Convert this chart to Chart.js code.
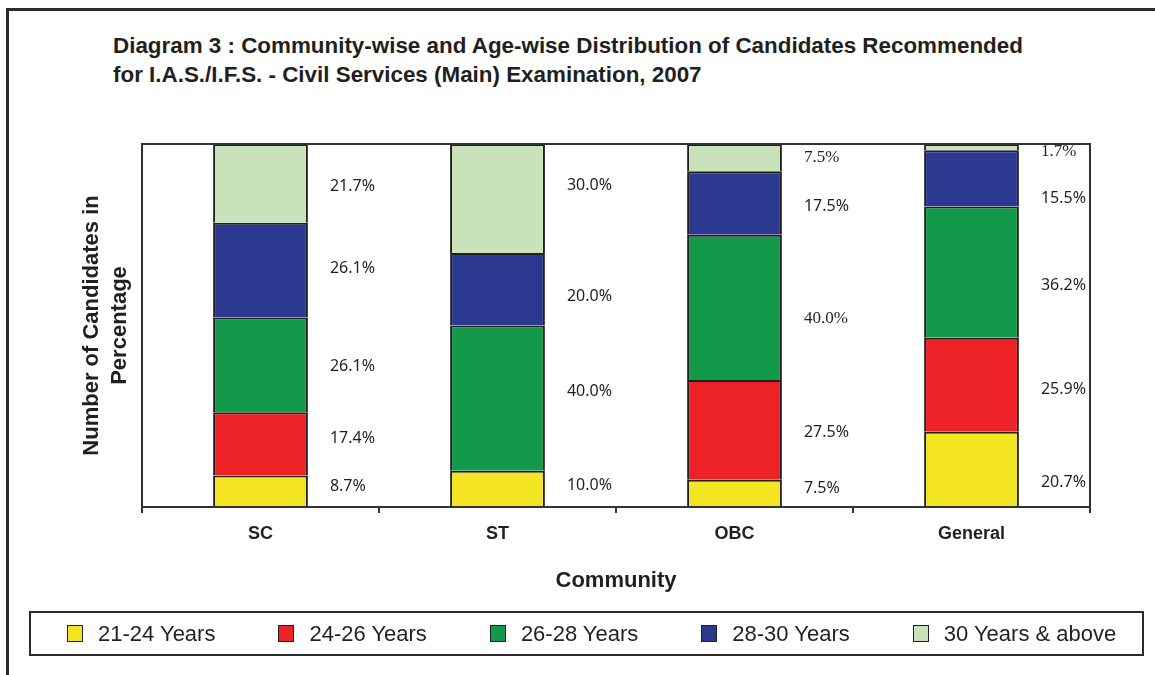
<!DOCTYPE html>
<html>
<head>
<meta charset="utf-8">
<script src="https://cdn.jsdelivr.net/npm/chart.js@4.4.1/dist/chart.umd.min.js"></script>
<style>
  body { margin: 0; background: #fff; }
  #wrap { position: relative; width: 1155px; height: 675px; overflow: hidden; color: #231f20;
          font-family: Arial, "Liberation Sans", sans-serif; }
  #frame { position: absolute; left: 6px; top: 8px; width: 1300px; height: 800px;
           border-left: 3px solid #2b2b2b; border-top: 3px solid #2b2b2b; }
  #title { position: absolute; left: 113px; top: 31px; font-weight: bold; font-size: 22.4px;
           line-height: 29px; white-space: nowrap; }
  #chart { position: absolute; left: 0; top: 0; }
  #legend { position: absolute; left: 29px; top: 611px; width: 1115px; height: 45px;
            box-sizing: border-box; border: 2px solid #2b2b2b; display: flex; align-items: center;
            padding-left: 36px; gap: 63px; }
  #legend .item { display: flex; align-items: center; font-size: 22px; white-space: nowrap; }
  #legend .swatch { display: inline-block; width: 16px; height: 17px; box-sizing: border-box;
                    border: 1.5px solid #231f20; margin-right: 15px; }
</style>
</head>
<body>
<div id="wrap">
  <div id="frame"></div>
  <div id="title">Diagram 3 : Community-wise and Age-wise Distribution of Candidates Recommended<br>for I.A.S./I.F.S. - Civil Services (Main) Examination, 2007</div>
  <canvas id="chart" width="1155" height="675"></canvas>
  <div id="legend"></div>
</div>
<script>
// categories and series (percent of candidates in each community)
const communities = ['SC', 'ST', 'OBC', 'General'];
const ageGroups = ['21-24 Years', '24-26 Years', '26-28 Years', '28-30 Years', '30 Years & above'];
const age21to24 = [8.7, 10.0, 7.5, 20.7];
const age24to26 = [17.4, 0, 27.5, 25.9];
const age26to28 = [26.1, 40.0, 40.0, 36.2];
const age28to30 = [26.1, 20.0, 17.5, 15.5];
const age30plus = [21.7, 30.0, 7.5, 1.7];

const colors = ['#f3e521', '#ec2227', '#12994a', '#2b3a90', '#c8e2b9'];
// a few value labels in the original are set in a serif face: [series, category]
const serifLabels = [[4, 2], [2, 2], [4, 3]];
// small vertical nudges of the value labels (px), per series then category
const labelShift = [
  [-5, -3, -5, 13],
  [-5, 0, 3, 5],
  [2, -7, 11, 13],
  [-2, 7, 3, 20],
  [3, -13, 0, 0],
];

const seriesValues = [age21to24, age24to26, age26to28, age28to30, age30plus];
const ink = '#231f20';

// draws the list of series into the html box under the chart
const htmlLegend = {
  id: 'htmlLegend',
  afterUpdate(chart) {
    const box = document.getElementById('legend');
    box.innerHTML = '';
    chart.options.plugins.legend.labels.generateLabels(chart).forEach(item => {
      const el = document.createElement('div');
      el.className = 'item';
      const sw = document.createElement('span');
      sw.className = 'swatch';
      sw.style.background = item.fillStyle;
      const tx = document.createElement('span');
      tx.textContent = item.text;
      el.appendChild(sw);
      el.appendChild(tx);
      box.appendChild(el);
    });
  }
};

// box around the plot area
const plotBorder = {
  id: 'plotBorder',
  afterDatasetsDraw(chart) {
    const { ctx, chartArea: a } = chart;
    ctx.save();
    ctx.strokeStyle = '#333';
    ctx.lineWidth = 2;
    ctx.strokeRect(a.left, a.top, a.right - a.left, a.bottom - a.top);
    ctx.restore();
  }
};

// percentage written to the right of each segment
const valueLabels = {
  id: 'valueLabels',
  afterDatasetsDraw(chart) {
    const ctx = chart.ctx;
    ctx.save();
    ctx.fillStyle = ink;
    ctx.textAlign = 'left';
    ctx.textBaseline = 'middle';
    chart.data.datasets.forEach((ds, di) => {
      chart.getDatasetMeta(di).data.forEach((bar, i) => {
        const v = ds.data[i];
        if (!v) return;
        const serif = serifLabels.some(([d, c]) => d === di && c === i);
        ctx.font = serif ? '17px "Liberation Serif", "Times New Roman", serif' : '16px "Noto Sans", sans-serif';
        const y = Math.max((bar.y + bar.base) / 2, chart.chartArea.top + 8) + labelShift[di][i];
        ctx.fillText(v.toFixed(1) + '%', bar.x + bar.width / 2 + 22, y);
      });
    });
    ctx.restore();
  }
};

new Chart(document.getElementById('chart'), {
  type: 'bar',
  data: {
    labels: communities,
    datasets: ageGroups.map((name, i) => ({
      label: name,
      data: seriesValues[i],
      backgroundColor: colors[i],
      borderColor: ink,
      borderWidth: { top: 2, bottom: 0, left: 2, right: 2 },
      borderSkipped: false,
      barPercentage: 0.4,
      categoryPercentage: 1.0,
    })),
  },
  options: {
    responsive: false,
    animation: false,
    layout: { padding: { left: 29, right: 65, top: 144, bottom: 81 } },
    plugins: {
      legend: { display: false },
      tooltip: { enabled: false },
    },
    scales: {
      x: {
        stacked: true,
        grid: { display: true, drawOnChartArea: false, tickLength: 6, color: '#333', lineWidth: 2, offset: true },
        border: { display: true, color: '#333', width: 2 },
        ticks: { color: ink, padding: 10, font: { family: 'Arial, "Liberation Sans"', size: 18, weight: 'bold' } },
        title: {
          display: true,
          text: 'Community',
          color: ink,
          font: { family: 'Arial, "Liberation Sans"', size: 22, weight: 'bold' },
          padding: { top: 13, bottom: 0 },
        },
      },
      y: {
        stacked: true,
        min: 0,
        max: 100,
        ticks: { display: false },
        grid: { display: false },
        border: { display: false },
        title: {
          display: true,
          text: ['Number of Candidates in', 'Percentage'],
          color: ink,
          font: { family: 'Arial, "Liberation Sans"', size: 22, weight: 'bold', lineHeight: 1.27 },
          padding: { top: 49, bottom: 0 },
        },
        afterFit(scale) { scale.width = 113; },
      },
    },
  },
  plugins: [htmlLegend, plotBorder, valueLabels],
});
</script>
</body>
</html>
